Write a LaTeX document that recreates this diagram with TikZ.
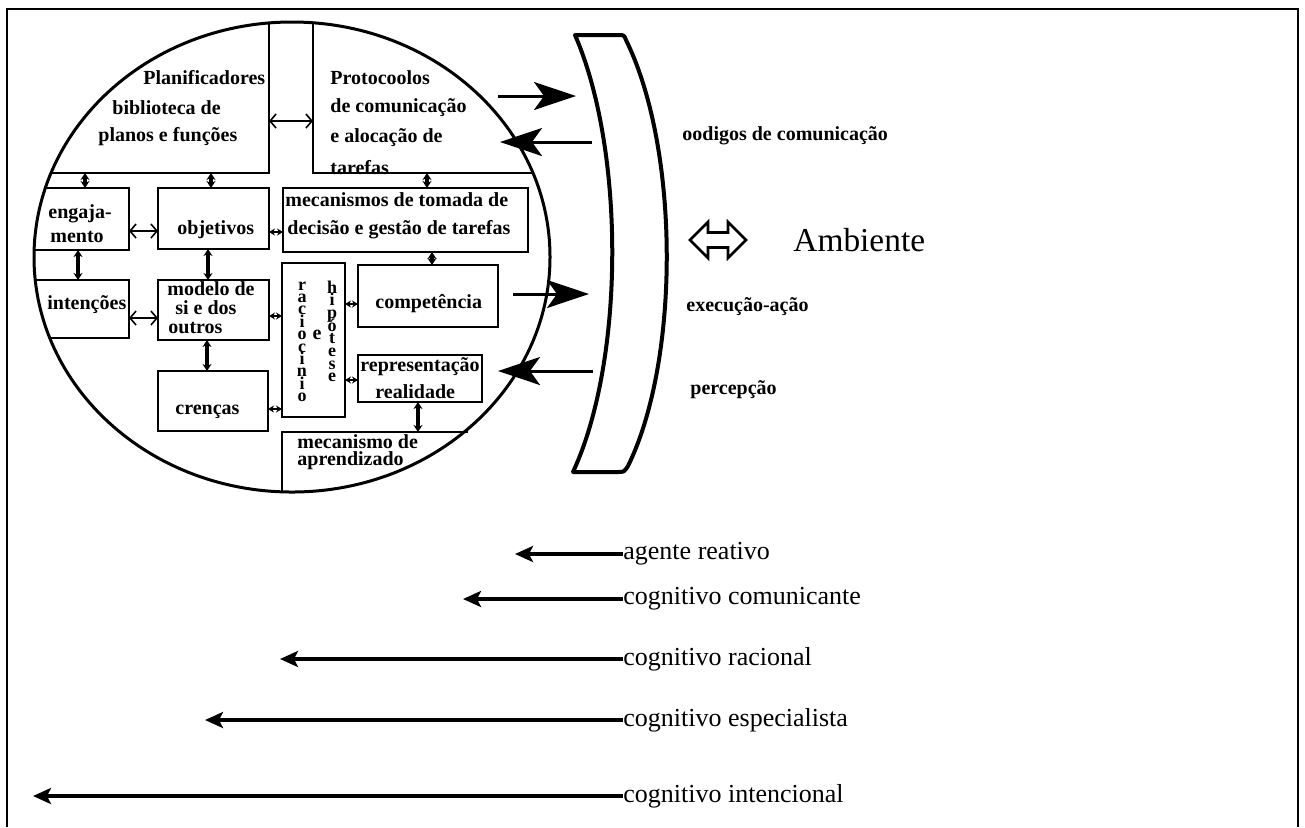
\documentclass[tikz,border=0pt]{standalone}
\usepackage{fontspec}
\setmainfont{Liberation Serif}
\usetikzlibrary{arrows.meta}
\begin{document}
\begin{tikzpicture}[x=0.5pt,y=-0.5pt,
  box/.style={draw, line width=1.2pt, inner sep=0, outer sep=0},
  lbl/.style={font=\bfseries\fontsize{10}{12}\selectfont, inner sep=0, anchor=west},
  vl/.style={font=\bfseries\fontsize{9}{10}\selectfont, inner sep=0, anchor=base},
  vdbl/.style={line width=1.6pt, {Stealth[length=3.5pt,width=4.5pt]}-{Stealth[length=3.5pt,width=4.5pt]}},
  hdbl/.style={line width=0.8pt, {Straight Barb[length=3pt,width=7pt]}-{Straight Barb[length=3pt,width=7pt]}},
  smallc/.style={line width=1pt, {Stealth[length=3pt,width=3.5pt]}-{Stealth[length=3pt,width=3.5pt]}},
  big/.style={line width=1.5pt, -{Stealth[length=21pt,width=14pt,inset=5pt]}},
  lev/.style={line width=1.6pt, -{Stealth[length=9pt,width=8pt,inset=2pt]}},
  levl/.style={font=\fontsize{13}{15}\selectfont, inner sep=0, anchor=west}
]
\useasboundingbox (0,0) rectangle (1305,827);
% frame
\draw[line width=1.1pt] (7,827) -- (7,9) -- (1298,9) -- (1298,827);

% agent circle
\draw[line width=1.5pt] (292,257) ellipse [x radius=129pt, y radius=117.5pt];
\begin{scope}
  \clip (292,257) ellipse [x radius=129pt, y radius=117.5pt];
  \node[box, minimum width=134.5pt, minimum height=86.5pt] (plan) at (134.5,86.5) {};
  \node[box, minimum width=153.5pt, minimum height=86.5pt] (prot) at (466.5,86.5) {};
  \node[box, minimum width=59.5pt, minimum height=31pt] (eng) at (69.5,219) {};
  \node[box, minimum width=59.5pt, minimum height=29pt] (int) at (69.5,309) {};
  \node[box, minimum width=93pt, minimum height=44pt] (apr) at (375,476) {};
\end{scope}
\draw[line width=1.2pt] (apr.north west) -- (apr.north east);

\node[box, minimum width=55.5pt, minimum height=30.5pt] (obj) at (213.5,218.5) {};
\node[box, minimum width=122.5pt, minimum height=32pt] (mec) at (405.5,220) {};
\node[box, minimum width=55.5pt, minimum height=30pt] (mod) at (213.5,310) {};
\node[box, minimum width=55pt, minimum height=30pt] (cren) at (213,401) {};
\node[box, minimum width=31.5pt, minimum height=77pt] (rac) at (313.5,340) {};
\node[box, minimum width=70pt, minimum height=31pt] (comp) at (428,296) {};
\node[box, minimum width=62pt, minimum height=23.5pt] (rep) at (420,378.5) {};

% texts inside circle
\node[lbl] (tp1) at (143,78) {Planificadores};
\node[lbl] (tp2) at (112,108) {biblioteca de};
\node[lbl] (tp3) at (98,137) {planos e funções};
\node[lbl] (tq1) at (330,78) {Protocoolos};
\node[lbl] (tq2) at (330,108) {de comunicação};
\node[lbl] (tq3) at (330,138) {e alocação de};
\node[lbl] (tq4) at (330,168) {tarefas};
\node[lbl] (tm1) at (285,200) {mecanismos de tomada de};
\node[lbl] (tm2) at (287,230) {decisão e gestão de tarefas};
\node[lbl] (te1) at (48,214) {engaja-};
\node[lbl] (te2) at (50,237) {mento};
\node[lbl] (to1) at (177,230) {objetivos};
\node[lbl] (ti1) at (47,305) {intenções};
\node[lbl] (tmo1) at (167,289) {modelo de};
\node[lbl] (tmo2) at (175,308) {si e dos};
\node[lbl] (tmo3) at (168,328) {outros};
\node[lbl] (tc1) at (175,412) {crenças};
\node[lbl] (tco1) at (375,304) {competência};
\node[lbl] (tr1) at (360,367) {representação};
\node[lbl] (tr2) at (375,392) {realidade};
\node[lbl] (ta1) at (297,442) {mecanismo de};
\node[lbl] (ta2) at (297,461) {aprendizado};
% vertical lettering in the reasoning box
\foreach \ch [count=\k from 0] in {r,a,c,i,o,c,i,n,i,o}
  \node[vl] (ra\k) at (302,{290+12.4*\k}) {\ch};
\node[lbl, anchor=center] (rv2) at (317,335) {e};
\foreach \ch [count=\k from 0] in {h,i,p,ó,t,e,s,e}
  \node[vl] (hi\k) at (332,{293+12.7*\k}) {\ch};

% helper coordinates for connector positions
\coordinate (x1) at (85,0);
\coordinate (x2) at (211,0);
\coordinate (x3) at (427,0);
\coordinate (x4) at (78,0);
\coordinate (x5) at (208,0);
\coordinate (x6) at (207,0);
\coordinate (x7) at (432,0);
\coordinate (x8) at (418,0);
\coordinate (y1) at (0,121);
\coordinate (y2) at (0,231);
\coordinate (y3) at (0,318);
\coordinate (y4) at (0,232);
\coordinate (y5) at (0,316);
\coordinate (y6) at (0,409);
\coordinate (y7) at (0,304);
\coordinate (y8) at (0,380);

% vertical connectors
\draw[vdbl] (x1 |- plan.south) -- (x1 |- eng.north);
\draw[vdbl] (x2 |- plan.south) -- (x2 |- obj.north);
\draw[vdbl] (x3 |- prot.south) -- (x3 |- mec.north);
\draw[vdbl] (x4 |- eng.south) -- (x4 |- int.north);
\draw[vdbl] (x5 |- obj.south) -- (x5 |- mod.north);
\draw[vdbl] (x6 |- mod.south) -- (x6 |- cren.north);
\draw[vdbl] (x7 |- mec.south) -- (x7 |- comp.north);
\draw[vdbl, line width=2pt] (x8 |- rep.south) -- (x8 |- apr.north);

% horizontal connectors
\draw[hdbl] (plan.east |- y1) -- (prot.west |- y1);
\draw[hdbl] (eng.east |- y2) -- (obj.west |- y2);
\draw[hdbl] (int.east |- y3) -- (mod.west |- y3);
\draw[smallc] (obj.east |- y4) -- (mec.west |- y4);
\draw[smallc] (mod.east |- y5) -- (rac.west |- y5);
\draw[smallc] (cren.east |- y6) -- (rac.west |- y6);
\draw[smallc] (rac.east |- y7) -- (comp.west |- y7);
\draw[smallc] (rac.east |- y8) -- (rep.west |- y8);

% interface bracket
\draw[line width=2pt, line join=round]
  (575,35) .. controls (625,150) and (625,360) .. (573,472)
  -- (618,472) .. controls (624,472) .. (628,466)
  .. controls (680,360) and (680,150) .. (626,40)
  .. controls (624,35) .. (618,35) -- cycle;

% arrows to/from environment
\coordinate (b1s) at (498,96);  \coordinate (b1e) at (576,96);
\coordinate (b2s) at (592,142); \coordinate (b2e) at (500,142);
\coordinate (b3s) at (513,294); \coordinate (b3e) at (589,294);
\coordinate (b4s) at (593,371); \coordinate (b4e) at (498,371);
\draw[big] (b1s) -- (b1e);
\draw[big] (b2s) -- (b2e);
\draw[big] (b3s) -- (b3e);
\draw[big] (b4s) -- (b4e);

% environment side
\node[lbl] (tcod) at (682,136) {oodigos de comunicação};
\node[lbl] (texe) at (686,307) {execução-ação};
\node[lbl] (tper) at (690,390) {percepção};
\draw[line width=1.3pt, line join=miter]
  (690,240) -- (708,222) -- (708,232.5) -- (728,232.5) -- (728,222) -- (746,240)
  -- (728,258) -- (728,247.5) -- (708,247.5) -- (708,258) -- cycle;
\node[font=\fontsize{16.7}{20}\selectfont, inner sep=0, anchor=west] (amb) at (793,240) {Ambiente};

% agent levels
\node[levl] (l1) at (623,554) {agente reativo};
\node[levl] (l2) at (623,599) {cognitivo comunicante};
\node[levl] (l3) at (623,659) {cognitivo racional};
\node[levl] (l4) at (623,720) {cognitivo especialista};
\node[levl] (l5) at (623,796) {cognitivo intencional};
\coordinate (t1) at (515,554);
\coordinate (t2) at (463,599);
\coordinate (t3) at (280,659);
\coordinate (t4) at (205,720);
\coordinate (t5) at (33,796);
\draw[lev] (l1.west) -- (t1);
\draw[lev] (l2.west) -- (t2);
\draw[lev] (l3.west) -- (t3);
\draw[lev] (l4.west) -- (t4);
\draw[lev] (l5.west) -- (t5);
\end{tikzpicture}
\end{document}
